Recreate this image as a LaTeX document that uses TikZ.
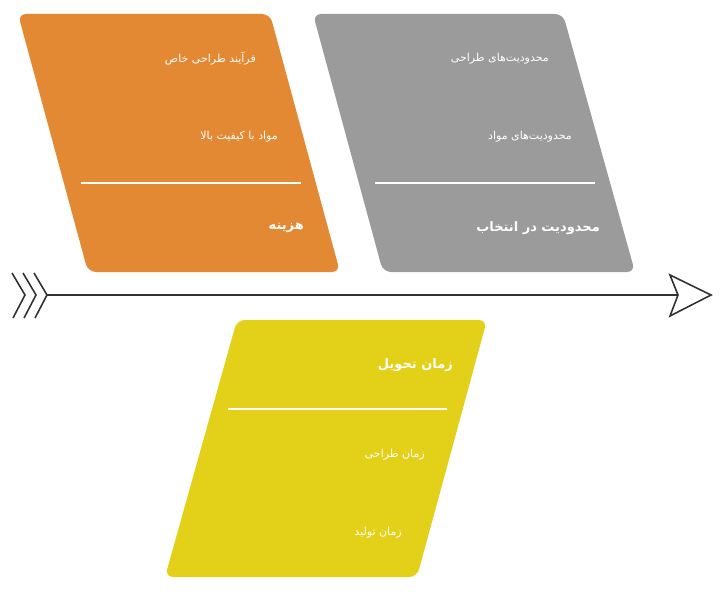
\documentclass[tikz,border=0pt]{standalone}
\usepackage{fontspec}
\TeXXeTstate=1
\newfontfamily\fa[Script=Arabic]{DejaVu Sans}
\definecolor{orangeC}{RGB}{227,137,52}
\definecolor{grayC}{RGB}{155,155,155}
\definecolor{yellowC}{RGB}{227,208,24}
\definecolor{axisC}{RGB}{51,51,51}
\tikzset{
  card/.style={rounded corners=8pt},
  sep/.style={white, line width=1.5pt},
  item/.style={text=white, anchor=east, inner sep=0pt, font=\fa\fontsize{11}{13}\selectfont},
  head/.style={text=white, anchor=east, inner sep=0pt, font=\fa\bfseries\fontsize{13}{15}\selectfont},
  axis/.style={axisC, line width=1.8pt},
}
\begin{document}
\begin{tikzpicture}[x=1pt,y=-1pt]
\useasboundingbox (0,0) rectangle (722,612);
\fill[white] (0,0) rectangle (722,612);

% cards
\fill[card, orangeC] (18,14) -- (270,14) -- (340,272) -- (88,272) -- cycle;
\fill[card, grayC] (313,14) -- (563,14) -- (635,272) -- (383,272) -- cycle;
\fill[card, yellowC] (237,320) -- (487,320) -- (417,577) -- (165,577) -- cycle;

% separators
\draw[sep] (81,183) -- (301,183);
\draw[sep] (375,183) -- (595,183);
\draw[sep] (228,409) -- (447,409);

% orange texts
\node[item] (o1) at (256,59) {\beginR فرآیند طراحی خاص\endR};
\node[item] (o2) at (278,137) {\beginR مواد با کیفیت بالا\endR};
\node[head] (o3) at (304,228) {\beginR هزینه\endR};

% gray texts
\node[item] (g1) at (549,59) {\beginR محدودیت‌های طراحی\endR};
\node[item] (g2) at (572,137) {\beginR محدودیت‌های مواد\endR};
\node[head] (g3) at (600,228) {\beginR محدودیت در انتخاب\endR};

% yellow texts
\node[head] (y1) at (453,365) {\beginR زمان تحویل\endR};
\node[item] (y2) at (425,455) {\beginR زمان طراحی\endR};
\node[item] (y3) at (402,533) {\beginR زمان تولید\endR};

% axis
\coordinate (tail) at (47,295);
\coordinate (notch) at (678,295);
\draw[axis] (tail) -- (notch);
\draw[axisC, line width=1.6pt, line join=miter, fill=white]
  (670,275) -- (711,295) -- (670,316) -- (notch) -- cycle;
\foreach \x in {25,36,47} {
  \draw[axis, line width=1.6pt] (\x-13,273) -- (\x,295) -- (\x-12,318);
}
\end{tikzpicture}
\end{document}
